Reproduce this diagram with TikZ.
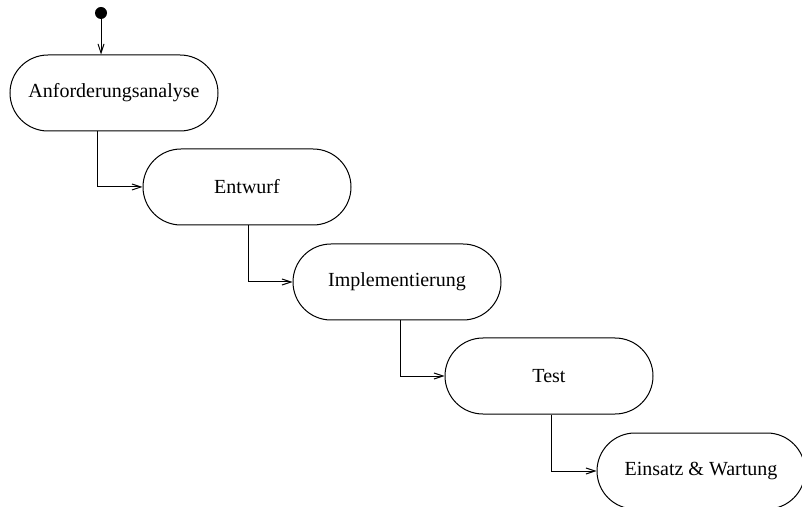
\documentclass[tikz,border=0pt]{standalone}
\usepackage{fontspec}
\setmainfont{Liberation Serif}
\usetikzlibrary{arrows.meta}
\begin{document}
\begin{tikzpicture}[x=0.5pt,y=-0.5pt,
  activity/.style={draw, line width=0.5pt, rectangle, rounded corners=19pt,
    minimum width=104pt, minimum height=38pt, inner sep=0pt, font=\fontsize{10}{12}\selectfont},
  flow/.style={draw, line width=0.5pt, -{Straight Barb[length=4.5pt,width=3pt]}}]
\useasboundingbox (0,0) rectangle (802,507);
\node[circle, fill=black, inner sep=0pt, minimum size=6pt] (start) at (101,13) {};
\node[activity] (n1) at (114,93) {Anforderungsanalyse};
\node[activity] (n2) at (247,187) {Entwurf};
\node[activity] (n3) at (397,282) {Implementierung};
\node[activity] (n4) at (549,376) {Test};
\node[activity] (n5) at (701,471) {Einsatz \& Wartung};
\draw[flow] (start) -- (start |- n1.north);
\draw[flow] ([xshift=-8.5pt]n1.south) |- (n2.west);
\draw[flow] ([xshift=0.5pt]n2.south) |- (n3.west);
\draw[flow] ([xshift=1.5pt]n3.south) |- (n4.west);
\draw[flow] ([xshift=1pt]n4.south) |- (n5.west);
\end{tikzpicture}
\end{document}
